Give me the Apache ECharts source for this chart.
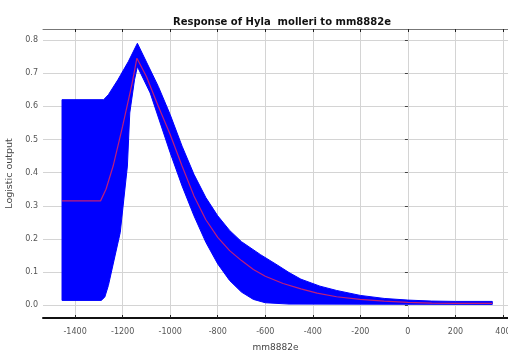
<!DOCTYPE html>
<html>
<head>
<meta charset="utf-8">
<script src="https://cdn.jsdelivr.net/npm/echarts@6/dist/echarts.min.js"></script>
<style>html,body{margin:0;padding:0;background:#fff}#c{width:508px;height:351px}</style>
</head>
<body>
<div id="c"></div>
<script>
// Tick labels
const xTicks = [-1400, -1200, -1000, -800, -600, -400, -200, 0, 200, 400];
const yTicks = [0, 0.1, 0.2, 0.3, 0.4, 0.5, 0.6, 0.7, 0.8];

// Upper edge of the blue band
const upperPts = [
  [-1455, 0.62], [-1280, 0.62], [-1260, 0.635], [-1220, 0.68], [-1176, 0.735], [-1138, 0.79],
  [-1050, 0.66], [-1000, 0.575], [-950, 0.48], [-900, 0.395], [-850, 0.325], [-800, 0.27],
  [-750, 0.226], [-700, 0.192], [-620, 0.153], [-550, 0.122], [-500, 0.099], [-450, 0.079],
  [-370, 0.058], [-300, 0.045], [-200, 0.03], [-100, 0.021], [0, 0.016], [100, 0.013],
  [200, 0.012], [355, 0.012]
];
// Lower edge of the blue band
const lowerPts = [
  [-1455, 0.015], [-1290, 0.015], [-1275, 0.025], [-1260, 0.06], [-1210, 0.22], [-1180, 0.42],
  [-1170, 0.58], [-1150, 0.68], [-1138, 0.72], [-1084, 0.64], [-1000, 0.46], [-950, 0.36],
  [-900, 0.27], [-850, 0.19], [-800, 0.125], [-750, 0.075], [-700, 0.04], [-650, 0.018],
  [-600, 0.008], [-500, 0.004], [355, 0.003]
];
// Mean response (red line)
const meanPts = [
  [-1455, 0.315], [-1293, 0.315], [-1270, 0.35], [-1240, 0.42], [-1200, 0.54], [-1160, 0.67],
  [-1140, 0.745], [-1100, 0.69], [-1050, 0.6], [-1000, 0.515], [-950, 0.42], [-900, 0.33],
  [-850, 0.258], [-800, 0.205], [-750, 0.165], [-700, 0.135], [-650, 0.108], [-600, 0.088],
  [-525, 0.066], [-450, 0.05], [-382, 0.037], [-300, 0.026], [-202, 0.018], [-100, 0.013],
  [0, 0.009], [100, 0.007], [200, 0.006], [355, 0.006]
];

const chart = echarts.init(document.getElementById('c'), null, {renderer: 'canvas'});
const font = 'DejaVu Sans, Verdana, sans-serif';
chart.setOption({
  animation: false,
  backgroundColor: '#fff',
  title: {
    text: 'Response of Hyla  molleri to mm8882e',
    left: 277, top: 12, textAlign: 'center',
    textStyle: {fontFamily: font, fontSize: 10, fontWeight: 'bold', color: '#111'}
  },
  grid: {left: 43, right: 0, top: 29, bottom: 33, containLabel: false, outerBoundsMode: 'none'},
  xAxis: [{
    type: 'value', min: -1535, max: 421, position: 'bottom',
    name: 'mm8882e', nameLocation: 'middle', nameGap: 25,
    nameTextStyle: {fontFamily: font, fontSize: 9, color: '#444'},
    axisLine: {onZero: false, lineStyle: {color: '#111', width: 2}},
    axisTick: {inside: true, length: 3, customValues: xTicks, lineStyle: {color: '#222'}},
    axisLabel: {customValues: xTicks, fontFamily: font, fontSize: 8, color: '#555', margin: 10,
      formatter: v => String(v)},
    splitLine: {show: true, lineStyle: {color: '#d4d4d4', width: 1}}
  }, {
    type: 'value', min: -1535, max: 421, position: 'top',
    axisLine: {onZero: false, lineStyle: {color: '#777', width: 1}},
    axisTick: {inside: true, length: 3, customValues: xTicks, lineStyle: {color: '#222'}},
    axisLabel: {show: false},
    splitLine: {show: false}
  }],
  yAxis: {
    type: 'value', min: -0.038, max: 0.833,
    name: 'Logistic output', nameLocation: 'middle', nameGap: 23,
    nameTextStyle: {fontFamily: font, fontSize: 9.5, color: '#444'},
    axisLine: {show: false},
    axisTick: {show: true, inside: false, length: 3, customValues: yTicks, lineStyle: {color: '#444'}},
    axisLabel: {customValues: yTicks, fontFamily: font, fontSize: 8, color: '#555', margin: 5,
      formatter: v => v.toFixed(1)},
    splitLine: {show: true, lineStyle: {color: '#d4d4d4', width: 1}}
  },
  series: [{
    type: 'custom',
    silent: true,
    xAxisIndex: 0,
    data: [[0, 0]],
    renderItem: (params, api) => {
      const pts = upperPts.map(p => api.coord(p))
        .concat(lowerPts.slice().reverse().map(p => api.coord(p)));
      return {type: 'polygon', shape: {points: pts}, style: {fill: '#0000ff', stroke: '#0000ff', lineWidth: 1}};
    },
    z: 2
  }, {
    type: 'line',
    xAxisIndex: 0,
    data: meanPts,
    showSymbol: false,
    silent: true,
    lineStyle: {color: '#c01e78', width: 1.2},
    z: 3
  }]
});
</script>
</body>
</html>
